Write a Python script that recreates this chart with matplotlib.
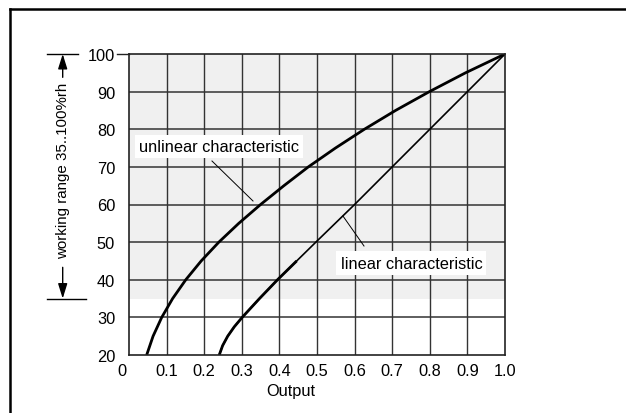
import matplotlib
matplotlib.use("Agg")
import matplotlib.pyplot as plt
from matplotlib.lines import Line2D
import matplotlib.transforms as mtransforms

plt.rcParams['font.family'] = ['Liberation Sans', 'DejaVu Sans']

# ---- data ----
unlinear_rh = [20, 25, 30, 35, 40, 45, 50, 55, 60, 65, 70, 75, 80, 85, 90, 95, 100]
unlinear_output = [0.047, 0.064, 0.087, 0.116, 0.151, 0.192, 0.239, 0.292, 0.350,
                   0.412, 0.477, 0.549, 0.626, 0.709, 0.799, 0.895, 1.0]
linear_rh = [20, 22.5, 25, 27.5, 30, 35, 40, 45, 50, 60, 70, 80, 90, 100]
linear_output = [0.240, 0.249, 0.2625, 0.280, 0.301, 0.347, 0.395, 0.446, 0.497,
                 0.6, 0.7, 0.8, 0.9, 1.0]
x_ticks = [0, 0.1, 0.2, 0.3, 0.4, 0.5, 0.6, 0.7, 0.8, 0.9, 1.0]
x_ticklabels = ['0', '0.1', '0.2', '0.3', '0.4', '0.5', '0.6', '0.7', '0.8', '0.9', '1.0']
y_ticks = [20, 30, 40, 50, 60, 70, 80, 90, 100]
working_range = (35, 100)

FS = 11.8
W, H = 626, 414
fig = plt.figure(figsize=(W / 100, H / 100), dpi=100)
ax = fig.add_axes([129 / W, 1 - 356 / H, (505 - 129) / W, (356 - 55) / H])

ax.set_xlim(0, 1.0)
ax.set_ylim(20, 100)

ax.axhspan(working_range[0], working_range[1], color='#f0f0f0', zorder=0, lw=0)

for x in x_ticks[1:-1]:
    ax.axvline(x, color='#333333', lw=1.0, zorder=1)
for y in y_ticks[1:-1]:
    ax.axhline(y, color='#333333', lw=1.1, zorder=1)

# curves
ax.plot(unlinear_output, unlinear_rh, color='black', lw=2.0, zorder=3,
        solid_capstyle='butt', solid_joinstyle='round')
ax.plot(linear_output, linear_rh, color='black', lw=1.2, zorder=3,
        solid_joinstyle='round')
ax.plot(linear_output[:8], linear_rh[:8], color='black', lw=2.0, zorder=3,
        solid_capstyle='butt', solid_joinstyle='round')

for s in ax.spines.values():
    s.set_color('#222222')
    s.set_linewidth(1.2)
    s.set_zorder(4)

ax.set_xticks(x_ticks)
ax.set_xticklabels(x_ticklabels)
ax.set_yticks(y_ticks)
ax.tick_params(axis='both', length=0, labelsize=FS)
ax.tick_params(axis='y', pad=10)
ax.tick_params(axis='x', pad=6)
off = mtransforms.ScaledTranslation(-7 / 100, 0, fig.dpi_scale_trans)
lbl0 = ax.get_xticklabels()[0]
lbl0.set_transform(lbl0.get_transform() + off)

# tick mark at 100
ax.add_line(Line2D([-12 / 376, 0], [1, 1], transform=ax.transAxes, color='#222222',
                   lw=1.0, clip_on=False))

ax.text(0.43, -0.094, 'Output', transform=ax.transAxes, ha='center', va='top',
        fontsize=FS)

# labels
ax.text(0.239, 75.5, 'unlinear characteristic', ha='center', va='center', fontsize=FS,
        zorder=5, bbox=dict(boxstyle='square,pad=0.25', fc='white', ec='none'))
ax.plot([0.2207, 0.3298], [71.56, 60.93], color='black', lw=0.7, zorder=5)
ax.text(0.751, 44.45, 'linear characteristic', ha='center', va='center', fontsize=FS,
        zorder=5, bbox=dict(boxstyle='square,pad=0.25', fc='white', ec='none'))
ax.plot([0.569, 0.625], [56.94, 48.97], color='black', lw=0.7, zorder=5)

# working range annotation
bt = mtransforms.blended_transform_factory(ax.transAxes, ax.transData)
xa = (62.7 - 129) / 376
ax.add_line(Line2D([(47 - 129) / 376, (78 - 129) / 376], [100, 100], transform=bt,
                   color='black', lw=1.0, clip_on=False))
ax.add_line(Line2D([(47 - 129) / 376, (86 - 129) / 376], [35, 35], transform=bt,
                   color='black', lw=1.0, clip_on=False))
arrow_kw = dict(arrowstyle='-|>,head_length=9,head_width=2.8', mutation_scale=1,
                color='black', lw=1.0, shrinkA=0, shrinkB=0)
ax.annotate('', xy=(xa, 100), xytext=(xa, 93.8), xycoords=bt, textcoords=bt,
            arrowprops=arrow_kw, annotation_clip=False)
ax.annotate('', xy=(xa, 35), xytext=(xa, 43.3), xycoords=bt, textcoords=bt,
            arrowprops=arrow_kw, annotation_clip=False)
ax.text(xa, 69.3, 'working range 35..100%rh', transform=bt, rotation=90,
        ha='center', va='center', fontsize=10.9)

# outer frame (top and left)
fig.add_artist(Line2D([9.5 / W, 1], [1 - 9.5 / H, 1 - 9.5 / H], transform=fig.transFigure,
                      color='black', lw=1.8))
fig.add_artist(Line2D([9.5 / W, 9.5 / W], [0, 1 - 9.5 / H], transform=fig.transFigure,
                      color='black', lw=1.8))

fig.savefig('out.png', dpi=100)
